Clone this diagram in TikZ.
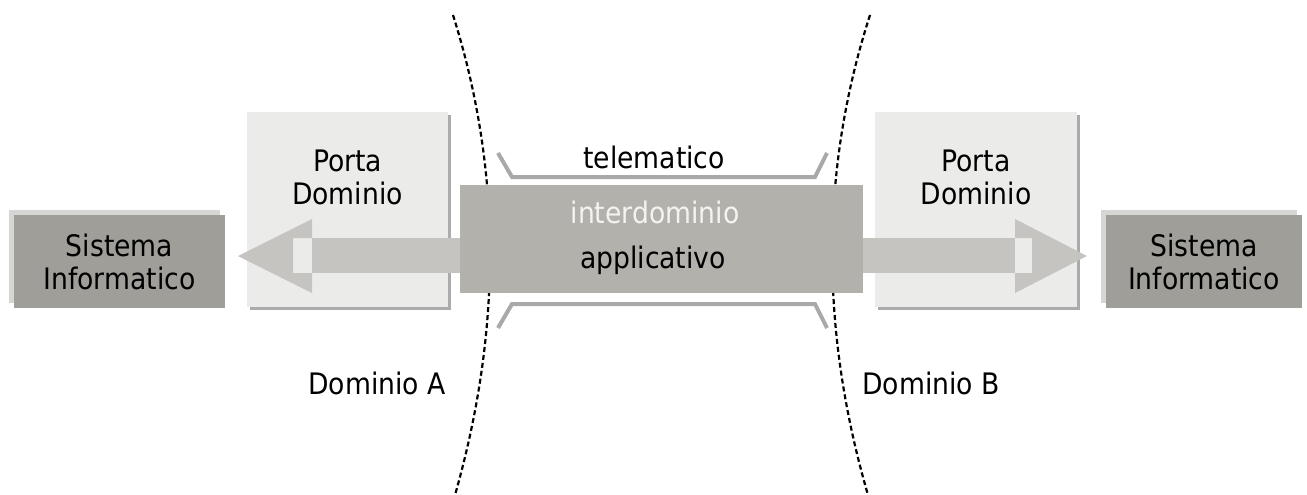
\documentclass[tikz,border=0pt]{standalone}
\usepackage{fontspec}
\setmainfont{DejaVu Sans Condensed}
\usetikzlibrary{shadows}
\definecolor{sysgray}{HTML}{9F9E99}
\definecolor{sysshade}{HTML}{D6D6D4}
\definecolor{portafill}{HTML}{EBEBEA}
\definecolor{portashade}{HTML}{ABABAB}
\definecolor{centregray}{HTML}{B3B1AC}
\definecolor{arrowgray}{HTML}{C6C4C0}
\definecolor{bracketgray}{HTML}{A9A9A9}
\definecolor{softwhite}{HTML}{F3F3F1}
\begin{document}
\begin{tikzpicture}[x=1pt,y=-1pt,
  every node/.style={font=\fontsize{29.6}{33}\selectfont, inner sep=0pt},
  sysbox/.style={fill=sysgray, align=center,
    drop shadow={shadow xshift=-5pt, shadow yshift=5pt, fill=sysshade, opacity=1}},
  portabox/.style={fill=portafill,
    drop shadow={shadow xshift=3pt, shadow yshift=-3pt, fill=portashade, opacity=1}},
  centrebox/.style={fill=centregray},
  lbl/.style={align=center, text=black},
  flow/.style={fill=arrowgray},
  bracket/.style={draw=bracketgray, line width=4pt},
  border/.style={draw=black, line width=2.2pt, dash pattern=on 5pt off 3pt}]
\useasboundingbox (0,0) rectangle (1307,495);

% domain gateways
\node[portabox, minimum width=201pt, minimum height=195pt] (portaA) at (347.5,209.5) {};
\node[portabox, minimum width=202pt, minimum height=195pt] (portaB) at (976,209.5) {};

% information systems
\node[sysbox, minimum width=211pt, minimum height=93pt] (sysA) at (119.5,261.5) {};
\node[sysbox, minimum width=196pt, minimum height=93pt] (sysB) at (1204,261.5) {};

% domain borders
\draw[border] (453,15) .. controls (502,170) and (502,330) .. (455,495);
\draw[border] (870,15) .. controls (820,170) and (820,330) .. (868,495);

% exchange arrows
\coordinate (tipA) at (238,256);
\coordinate (tipB) at (1087,256);
\fill[flow] (tipA) -- (312,219) -- (312,238) -- (293,238) -- (293,273)
  -- (312,273) -- (312,293) -- cycle;
\fill[flow] (312,238) rectangle (470,273);
\fill[flow] (tipB) -- (1015,293) -- (1015,273) -- (1032,273) -- (1032,238)
  -- (1015,238) -- (1015,219) -- cycle;
\fill[flow] (850,238) rectangle (1015,273);

% telematic channel
\draw[bracket] (498,153) -- (512,177) -- (815,177) -- (827,153);
\draw[bracket] (498,328) -- (512,304) -- (815,304) -- (827,328);

% interdomain application block
\node[centrebox, minimum width=403pt, minimum height=108pt] (centre) at (661.5,239) {};

% labels
\node[lbl] (sysAtxt) at (sysA) {Sistema\\Informatico};
\node[lbl] (sysBtxt) at (sysB) {Sistema\\Informatico};
\node[lbl] (portaAtxt) at (347.5,177) {Porta\\Dominio};
\node[lbl] (portaBtxt) at (976,177) {Porta\\Dominio};
\node[lbl] (tele) at (654,157) {telematico};
\node[lbl, text=softwhite] (inter) at (655,212) {interdominio};
\node[lbl] (appl) at (653,260) {applicativo};
\node[lbl] (domA) at (377,383) {Dominio A};
\node[lbl] (domB) at (931,383) {Dominio B};
\end{tikzpicture}
\end{document}
